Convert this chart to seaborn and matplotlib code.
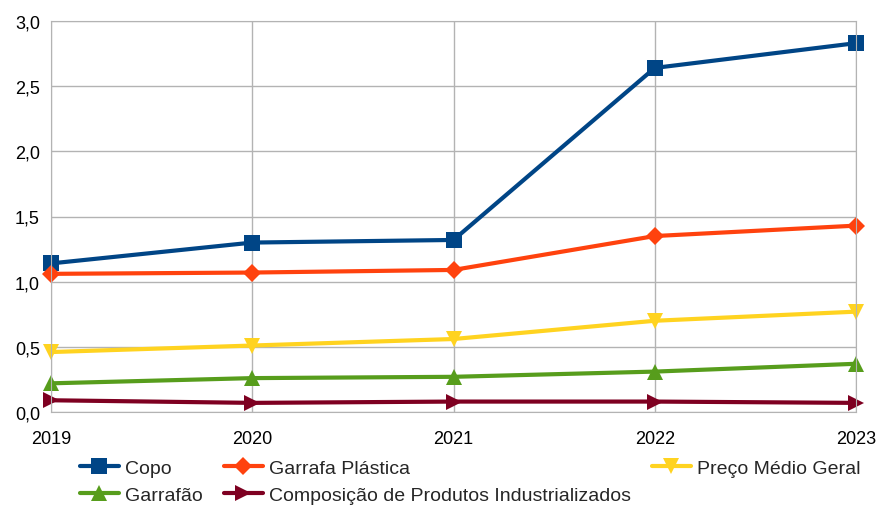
import matplotlib
matplotlib.use("Agg")
import matplotlib.pyplot as plt
from matplotlib.ticker import FuncFormatter, MultipleLocator
from matplotlib.lines import Line2D
import seaborn as sns
import pandas as pd

anos = [2019, 2020, 2021, 2022, 2023]
copo = [1.14, 1.30, 1.32, 2.64, 2.83]
garrafa_plastica = [1.06, 1.07, 1.09, 1.35, 1.43]
preco_medio = [0.46, 0.51, 0.56, 0.70, 0.77]
garrafao = [0.22, 0.26, 0.27, 0.31, 0.37]
composicao = [0.09, 0.07, 0.08, 0.08, 0.07]

series = ["Copo", "Garrafa Plástica", "Preço Médio Geral", "Garrafão",
          "Composição de Produtos Industrializados"]
valores = [copo, garrafa_plastica, preco_medio, garrafao, composicao]
cores = ["#004586", "#ff420e", "#ffd320", "#579d1c", "#7e0021"]
marcadores = ["s", "D", "v", "^", ">"]
tamanhos = [11, 9, 12, 12, 12]

rows = []
for nome, vals in zip(series, valores):
    for a, v in zip(anos, vals):
        rows.append({"Ano": a, "Valor": v, "Série": nome})
df = pd.DataFrame(rows)

sns.set_style("white")
plt.rcParams['font.family'] = ['Liberation Sans', 'DejaVu Sans']

fig = plt.figure(figsize=(8.77, 5.06), dpi=100)
ax = fig.add_axes([51/877, 1 - 413/506, (856-51)/877, (413-22)/506])

sns.lineplot(data=df, x="Ano", y="Valor", hue="Série", style="Série",
             palette=dict(zip(series, cores)),
             markers=dict(zip(series, marcadores)), dashes=False,
             linewidth=3, markeredgewidth=0, ax=ax, legend=False)
for line, ms in zip(ax.get_lines(), tamanhos):
    line.set_markersize(ms)
    line.set_clip_on(False)

ax.set_xlim(2019, 2023)
ax.set_ylim(0, 3.0)
ax.set_xticks(anos)
ax.set_xticklabels([str(a) for a in anos])
ax.yaxis.set_major_locator(MultipleLocator(0.5))
ax.yaxis.set_major_formatter(FuncFormatter(lambda v, p: f"{v:.1f}".replace('.', ',')))
ax.grid(True, color="#b3b3b3", linewidth=1)
ax.set_axisbelow(True)
for s in ax.spines.values():
    s.set_color("#b3b3b3")
ax.tick_params(axis="both", length=5, color="#b3b3b3", labelsize=13, labelcolor="#000000", pad=3)
ax.tick_params(axis="x", pad=8)
ax.set_xlabel("")
ax.set_ylabel("")

handles = []
for nome, c, m, ms in zip(series, cores, marcadores, tamanhos):
    handles.append(Line2D([0], [0], color=c, marker=m, markersize=ms, linewidth=3,
                          markeredgewidth=0, label=nome))
order = [0, 3, 1, 4, 2]
leg = fig.legend([handles[i] for i in order], [series[i] for i in order],
                 ncol=3, loc="lower left", bbox_to_anchor=(80/877, 0.002),
                 frameon=False, fontsize=14, handlelength=2.0, handletextpad=0.3,
                 columnspacing=1.1, labelspacing=0.5, borderaxespad=0, borderpad=0)

fig.savefig("out.png", dpi=100)
